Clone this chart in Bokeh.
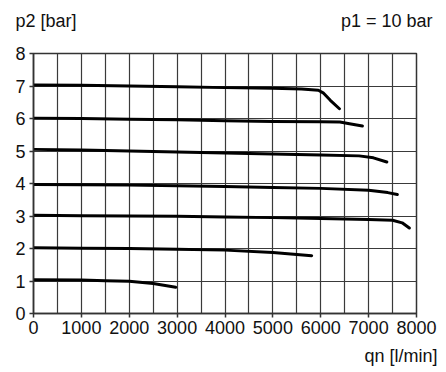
from bokeh.plotting import figure
from bokeh.models import FixedTicker, Range1d
from bokeh.layouts import column
from bokeh.core.properties import value
from bokeh.embed import file_html
from bokeh.resources import INLINE

# Data (qn in l/min, p2 in bar), p1 = 10 bar
q7 = [0, 1000, 2000, 3000, 4000, 5000, 5600, 5950, 6050, 6200, 6390]
p7 = [7.03, 7.02, 7.00, 6.98, 6.95, 6.93, 6.91, 6.87, 6.79, 6.56, 6.30]
q6 = [0, 1000, 2000, 3000, 4000, 5000, 6000, 6400, 6600, 6870]
p6 = [6.01, 6.00, 5.98, 5.96, 5.93, 5.91, 5.90, 5.89, 5.84, 5.77]
q5 = [0, 1000, 2000, 3000, 4000, 5000, 6000, 6800, 7100, 7380]
p5 = [5.05, 5.03, 5.00, 4.97, 4.94, 4.91, 4.88, 4.85, 4.79, 4.66]
q4 = [0, 1000, 2000, 3000, 4000, 5000, 6000, 7000, 7400, 7600]
p4 = [3.97, 3.96, 3.95, 3.93, 3.91, 3.88, 3.85, 3.79, 3.72, 3.66]
q3 = [0, 1000, 2000, 3000, 4000, 5000, 6000, 7000, 7500, 7700, 7850]
p3 = [3.02, 3.01, 3.00, 2.99, 2.97, 2.95, 2.92, 2.89, 2.87, 2.79, 2.63]
q2 = [0, 1000, 2000, 3000, 4000, 5000, 5810]
p2 = [2.02, 2.01, 2.00, 1.98, 1.95, 1.88, 1.78]
q1 = [0, 1000, 1500, 2000, 2500, 2970]
p1 = [1.04, 1.03, 1.01, 0.99, 0.92, 0.81]

series = [(q7, p7), (q6, p6), (q5, p5), (q4, p4), (q3, p3), (q2, p2), (q1, p1)]

x_ticks = [0, 1000, 2000, 3000, 4000, 5000, 6000, 7000, 8000]
x_grid = list(range(0, 8001, 500))
y_ticks = [0, 1, 2, 3, 4, 5, 6, 7, 8]

y_title = "p2 [bar]"
inlet_note = "p1 = 10 bar"
x_title = "qn [l/min]"

FONT = "Liberation Sans"
W = 440


def text_strip(height):
    f = figure(width=W, height=height, output_backend="svg", toolbar_location=None,
               x_range=Range1d(0, W), y_range=Range1d(height, 0),
               x_axis_location=None, y_axis_location=None,
               min_border=0)
    f.frame_align = False
    f.outline_line_color = None
    f.grid.visible = False
    f.background_fill_color = "white"
    f.border_fill_color = "white"
    return f


header = text_strip(40)
header.text(x=[15], y=[20], text=[y_title], text_font=value(FONT), text_font_size="18px",
            text_color="#111111", text_align="left", text_baseline="alphabetic")
header.text(x=[432], y=[20], text=[inlet_note], text_font=value(FONT), text_font_size="18px",
            text_color="#111111", text_align="right", text_baseline="alphabetic")

p = figure(frame_width=383, frame_height=260, output_backend="svg",
           toolbar_location=None, x_range=Range1d(0, 8000), y_range=Range1d(0, 8),
           min_border_left=33, min_border_right=W - 33 - 383, min_border_top=13,
           min_border_bottom=29)
p.frame_align = False
p.background_fill_color = "white"
p.border_fill_color = "white"
p.outline_line_color = "#333333"
p.outline_line_width = 1.5

p.xaxis.ticker = FixedTicker(ticks=x_ticks)
p.yaxis.ticker = FixedTicker(ticks=y_ticks)
p.xgrid.ticker = FixedTicker(ticks=x_grid)
p.ygrid.ticker = FixedTicker(ticks=y_ticks)
for g in (p.xgrid, p.ygrid):
    g.grid_line_color = "#3a3a3a"
    g.grid_line_width = 1.2
    g.grid_line_alpha = 1.0

for ax in (p.xaxis, p.yaxis):
    ax.axis_line_color = "#333333"
    ax.axis_line_width = 1.5
    ax.major_tick_line_color = "#333333"
    ax.major_tick_line_width = 1.5
    ax.major_tick_out = 4
    ax.major_tick_in = 0
    ax.minor_tick_line_color = None
    ax.major_label_text_font = FONT
    ax.major_label_text_font_size = "18px"
    ax.major_label_text_color = "#111111"
p.xaxis.major_label_standoff = 3
p.yaxis.major_label_standoff = 4

for q, pr in series:
    p.line(q, pr, line_color="black", line_width=3, line_cap="round", line_join="round")

footer = text_strip(28)
footer.text(x=[437], y=[13], text=[x_title], text_font=value(FONT), text_font_size="18px",
            text_color="#111111", text_align="right", text_baseline="alphabetic")

layout = column(header, p, footer, spacing=0)
open("out.html", "w").write(file_html(layout, INLINE))
